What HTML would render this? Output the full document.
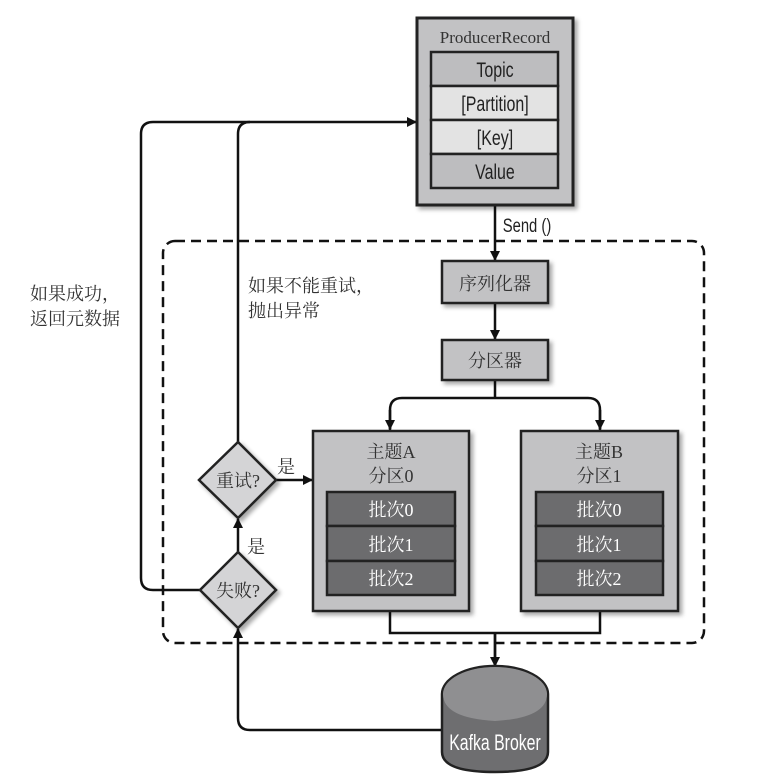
<!DOCTYPE html>
<html><head><meta charset="utf-8"><style>
html,body{margin:0;padding:0;background:#fff;}
svg{display:block;}
.cn{font-family:"Liberation Serif","Noto Serif CJK SC","Noto Sans CJK SC",serif;}
.sn{font-family:"Liberation Sans",sans-serif;}
</style></head><body>
<svg width="778" height="783" viewBox="0 0 778 783" xmlns="http://www.w3.org/2000/svg">
<defs>
<marker id="ar" markerWidth="10" markerHeight="10" refX="9" refY="5" orient="auto" markerUnits="userSpaceOnUse">
<path d="M0,0 L10,5 L0,10 Z" fill="#111"/></marker>
<filter id="sh" x="-10%" y="-10%" width="130%" height="130%"><feDropShadow dx="3" dy="3" stdDeviation="2" flood-color="#000" flood-opacity="0.35"/></filter>
</defs>
<g stroke="#111" stroke-width="2.5" fill="none">
<path d="M200,590 H153 Q141,590 141,578 V134 Q141,122 153,122 H416" marker-end="url(#ar)"/>
<path d="M238,442 V134 Q238,122 250,122"/>
<path d="M442,730 H250 Q238,730 238,718 V629" marker-end="url(#ar)"/>
<rect x="163" y="241" width="541" height="402" rx="12" stroke-dasharray="10,6"/>
<path d="M495,205 V260" marker-end="url(#ar)"/>
<path d="M495,304 V339" marker-end="url(#ar)"/>
<path d="M495,381 V398 M390,430 V410 Q390,398 402,398 H588 Q600,398 600,410 V430"/>
<path d="M390,410 V429" marker-end="url(#ar)"/>
<path d="M600,410 V429" marker-end="url(#ar)"/>
<path d="M390,611 V633 H600 V611 M495,633 V665" />
<path d="M495,633 V666" marker-end="url(#ar)"/>
<path d="M276,480 H312" marker-end="url(#ar)"/>
<path d="M238,552 V519" marker-end="url(#ar)"/>
</g>
<rect x="417" y="18" width="156" height="187" fill="#c2c2c4" stroke="#222" stroke-width="3" filter="url(#sh)"/>
<text x="495" y="43" class="cn" font-size="17" fill="#333" text-anchor="middle">ProducerRecord</text>
<g stroke="#222" stroke-width="2.5">
<rect x="431" y="52" width="127" height="34" fill="#bdbdbf"/>
<rect x="431" y="86" width="127" height="34" fill="#e3e3e3"/>
<rect x="431" y="120" width="127" height="34" fill="#e3e3e3"/>
<rect x="431" y="154" width="127" height="34" fill="#bdbdbf"/>
</g>
<g class="sn" font-size="21" fill="#222" text-anchor="middle">
<text x="495" y="77" transform="translate(495,0) scale(0.76,1) translate(-495,0)">Topic</text>
<text x="495" y="111" transform="translate(495,0) scale(0.76,1) translate(-495,0)">[Partition]</text>
<text x="495" y="145" transform="translate(495,0) scale(0.76,1) translate(-495,0)">[Key]</text>
<text x="495" y="179" transform="translate(495,0) scale(0.76,1) translate(-495,0)">Value</text>
<text x="527" y="232" font-size="19" transform="translate(527,0) scale(0.78,1) translate(-527,0)">Send ()</text>
</g>
<rect x="442" y="261" width="106" height="42" fill="#c2c2c4" stroke="#222" stroke-width="2.5" filter="url(#sh)"/>
<text x="495" y="290" class="cn" font-size="18" fill="#333" text-anchor="middle">序列化器</text>
<rect x="442" y="340" width="106" height="40" fill="#c2c2c4" stroke="#222" stroke-width="2.5" filter="url(#sh)"/>
<text x="495" y="367" class="cn" font-size="18" fill="#333" text-anchor="middle">分区器</text>
<g>
<rect x="313" y="431" width="156" height="180" fill="#c2c2c4" stroke="#222" stroke-width="2.5" filter="url(#sh)"/>
<rect x="521" y="431" width="157" height="180" fill="#c2c2c4" stroke="#222" stroke-width="2.5" filter="url(#sh)"/>
<g stroke="#222" stroke-width="2.5" fill="#6c6c6e">
<rect x="327" y="492" width="128" height="34"/><rect x="327" y="526" width="128" height="35"/><rect x="327" y="561" width="128" height="34"/>
<rect x="536" y="492" width="127" height="34"/><rect x="536" y="526" width="127" height="35"/><rect x="536" y="561" width="127" height="34"/>
</g>
<g class="cn" font-size="18" text-anchor="middle">
<text x="391" y="458" fill="#333">主题A</text><text x="391" y="482" fill="#333">分区0</text>
<text x="599" y="458" fill="#333">主题B</text><text x="599" y="482" fill="#333">分区1</text>
<text x="391" y="516" fill="#fff">批次0</text><text x="391" y="551" fill="#fff">批次1</text><text x="391" y="585" fill="#fff">批次2</text>
<text x="599" y="516" fill="#fff">批次0</text><text x="599" y="551" fill="#fff">批次1</text><text x="599" y="585" fill="#fff">批次2</text>
</g>
</g>
<path d="M238,442 L276,480 L238,518 L199,480 Z" fill="#d4d4d6" stroke="#222" stroke-width="2.5" filter="url(#sh)"/>
<path d="M238,552 L276,590 L238,628 L200,590 Z" fill="#d4d4d6" stroke="#222" stroke-width="2.5" filter="url(#sh)"/>
<g class="cn" font-size="18" fill="#333">
<text x="238" y="487" text-anchor="middle">重试?</text>
<text x="238" y="597" text-anchor="middle">失败?</text>
<text x="277" y="473">是</text>
<text x="247" y="553">是</text>
<text x="30" y="300">如果成功，</text>
<text x="30" y="325">返回元数据</text>
<text x="248" y="292">如果不能重试，</text>
<text x="248" y="317">抛出异常</text>
</g>
<path d="M442,694 A53,28 0 0 1 548,694 V752 Q548,772 495,772 Q442,772 442,752 Z" fill="#6e6e70" stroke="#222" stroke-width="2.5"/>
<path d="M443,694 A52,27 0 0 1 547,694 Q547,718 495,721 Q443,718 443,694 Z" fill="#8f8f91"/>
<text x="495" y="750" class="sn" font-size="22" fill="#fff" text-anchor="middle" transform="translate(495,0) scale(0.72,1) translate(-495,0)">Kafka Broker</text>
</svg>
</body></html>
